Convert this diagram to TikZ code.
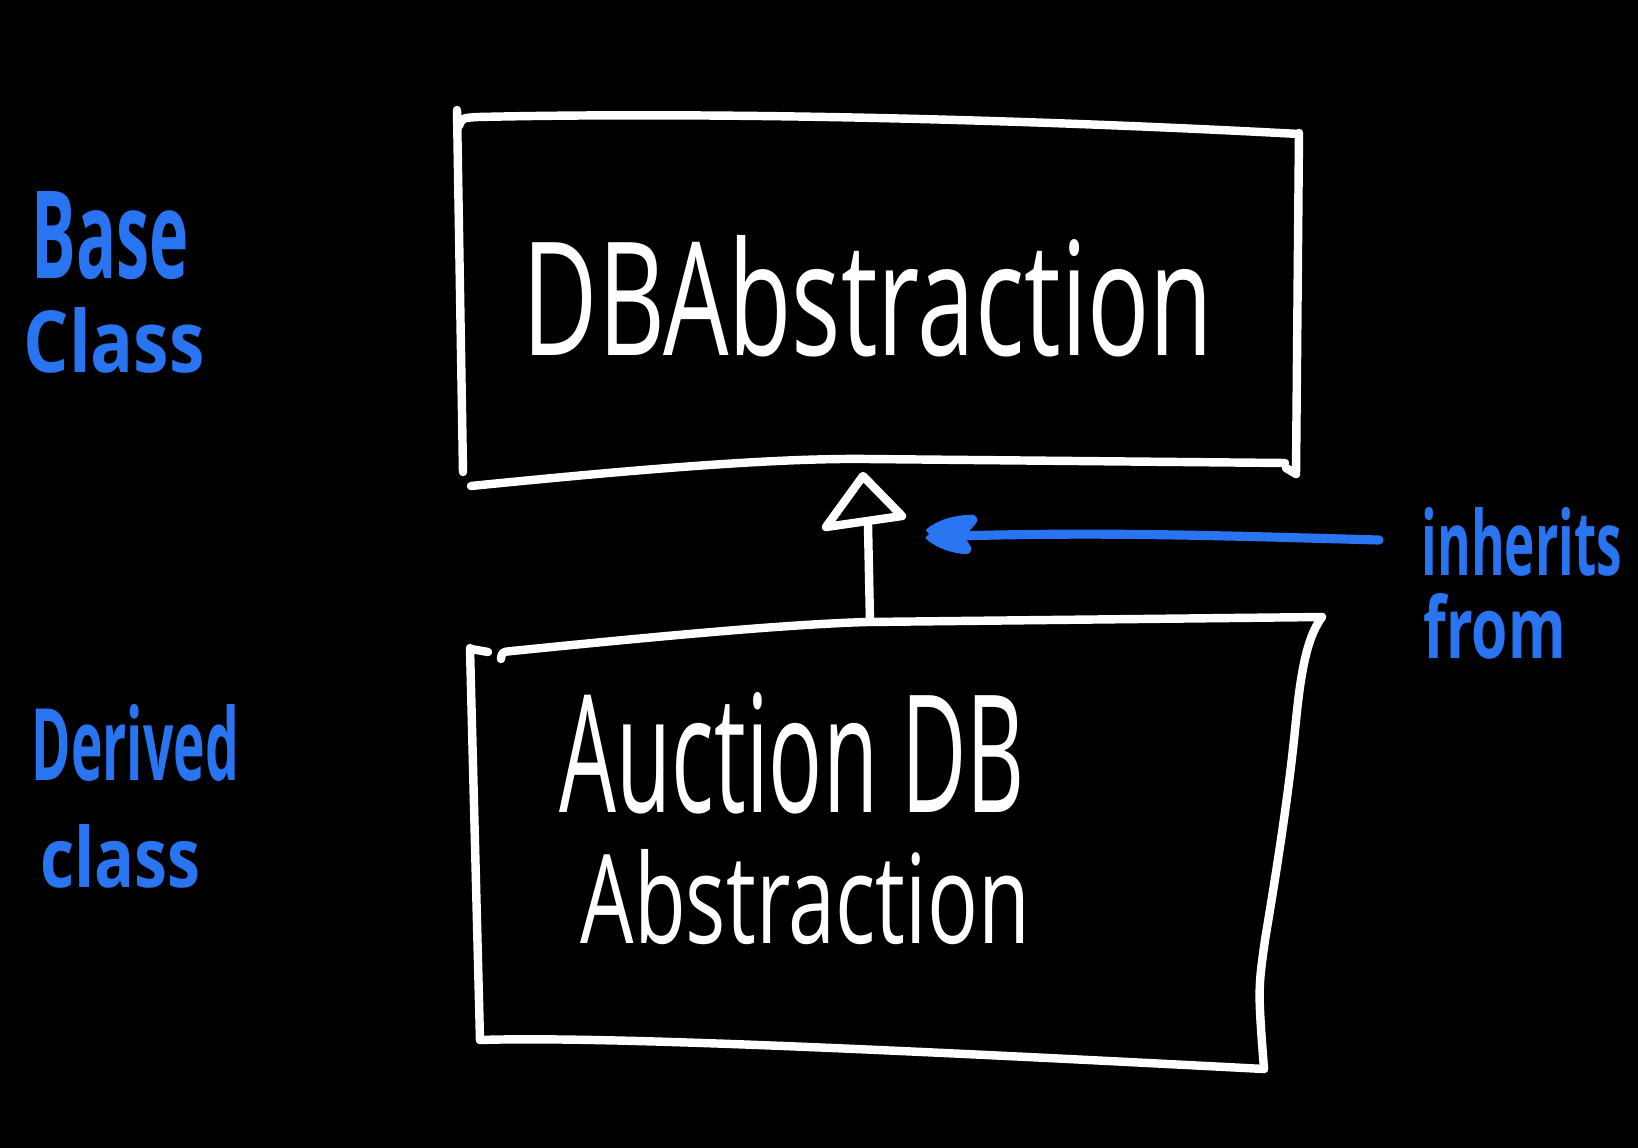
\documentclass[tikz,border=0pt]{standalone}
\usepackage{fontspec}
\usepackage{graphicx}
\setsansfont{Open Sans}
\definecolor{inkblue}{RGB}{41,116,240}
\tikzset{
  chalk/.style={draw=white, line width=2.4pt, line cap=round, line join=round},
  bluechalk/.style={draw=inkblue, line width=2.6pt, line cap=round, line join=round},
  lbl/.style={inner sep=0pt, anchor=base west, font=\sffamily},
  bluelbl/.style={lbl, text=inkblue, font=\sffamily\bfseries},
}
\newcommand{\fitbox}[3]{\resizebox{#1}{#2}{#3}}
\begin{document}
\begin{tikzpicture}[x=0.01cm, y=-0.01cm]
\fill[black] (0,0) rectangle (1638,1148);
\useasboundingbox (0,0) rectangle (1638,1148);

% ---- base class box ----
\draw[chalk] (457,110) -- (463,472);
\draw[chalk] (459,126) .. controls (462,118) .. (478,117) .. controls (700,112) and (1000,118) .. (1299,134);
\draw[chalk] (1299,133) -- (1296,474) -- (1286,468);
\draw[chalk] (471,486) .. controls (650,468) and (780,458) .. (867,459) -- (1285,463);

% ---- derived class box ----
\draw[chalk] (470,648) -- (480,1040);
\draw[chalk] (471,649) -- (488,652);
\draw[chalk] (501,659) .. controls (502,652) .. (512,651) .. controls (700,632) and (800,624) .. (867,622) -- (1322,617);
\draw[chalk] (1322,617) .. controls (1305,640) and (1300,680) .. (1295,730)
  .. controls (1288,800) and (1275,880) .. (1265,940) .. controls (1258,990) .. (1264,1069);
\draw[chalk] (480,1040) .. controls (600,1036) and (900,1050) .. (1264,1069);

% ---- texts ----
\node[lbl, text=white] (base) at (522,355) {\fitbox{6.9cm}{1.2cm}{DBAbstraction}};
\node[lbl, text=white] (derived1) at (559,812) {\fitbox{4.65cm}{1.2cm}{Auction DB}};
\node[lbl, text=white] (derived2) at (580,943) {\fitbox{4.49cm}{0.94cm}{Abstraction}};

\node[bluelbl] (lb1) at (31,278) {\fitbox{1.57cm}{0.87cm}{Base}};
\node[bluelbl] (lb2) at (23,372) {\fitbox{1.81cm}{0.65cm}{Class}};
\node[bluelbl] (ld1) at (31,780) {\fitbox{2.07cm}{0.76cm}{Derived}};
\node[bluelbl] (ld2) at (40,887) {\fitbox{1.60cm}{0.63cm}{class}};
\node[bluelbl] (li1) at (1421,575) {\fitbox{2.00cm}{0.68cm}{inherits}};
\node[bluelbl] (li2) at (1423,658) {\fitbox{1.42cm}{0.65cm}{from}};

% ---- inheritance arrow ----
\coordinate (subtop) at (870,622);
\coordinate (stembase) at (868,525);
\coordinate (apex) at (863,476);
\coordinate (triL) at (826,527);
\coordinate (triR) at (902,516);
\draw[chalk] (subtop) -- (stembase);
\draw[chalk] (apex) -- (triL) -- (triR) -- cycle;

% ---- blue pointer ----
\coordinate (ptrtail) at (1379,540);
\coordinate (ptrhead) at (929,534);
\draw[bluechalk] (ptrtail) .. controls (1200,535) and (1100,532) .. (955,536);
\fill[inkblue, draw=inkblue, line width=3pt, line join=round]
  (ptrhead) .. controls (940,524) and (958,520) .. (972,520)
  -- (958,536) -- (966,549)
  .. controls (952,548) and (936,542) .. (ptrhead);
\end{tikzpicture}
\end{document}
